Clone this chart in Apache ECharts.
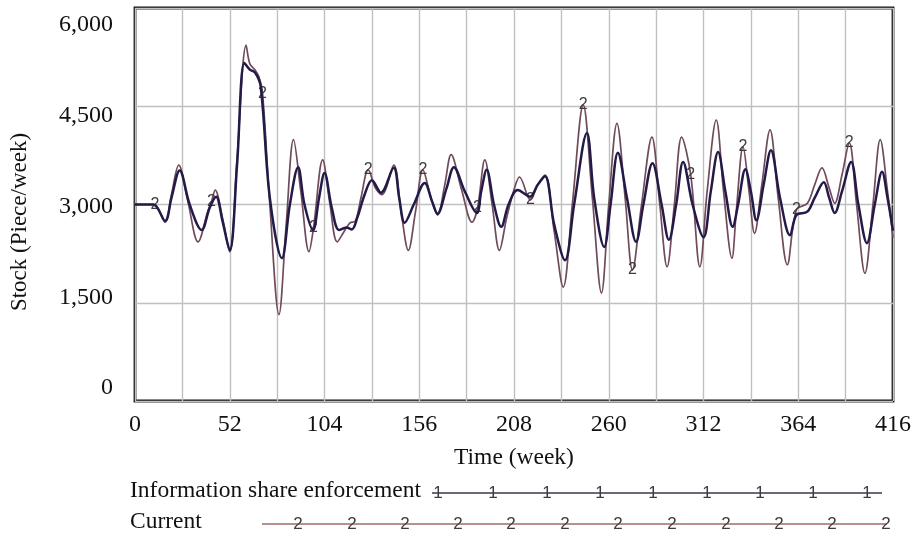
<!DOCTYPE html>
<html>
<head>
<meta charset="utf-8">
<script src="https://cdn.jsdelivr.net/npm/echarts@6/dist/echarts.min.js"></script>
<style>
  html, body { margin: 0; padding: 0; background: #fff; }
  #chart { width: 915px; height: 543px; }
</style>
</head>
<body>
<div id="chart"></div>
<script>
// Stock level (piece/week) over 416 simulated weeks, two scenarios.
const currentWeeks = [0, 10, 11, 16.5, 20, 24, 29, 34.6, 40, 42, 44, 48, 52, 56, 61, 63, 66, 68, 70, 74, 79, 83, 87, 91, 95.5, 98, 103, 107, 111, 115, 118, 121, 124, 128, 132, 135.5, 142, 146, 150, 154, 158, 162, 166, 170, 173.5, 179, 185, 188, 192, 196, 200, 204, 208.5, 211, 217, 221, 225, 230, 235, 240, 246, 251, 256, 260, 264.5, 269, 273, 278, 283.7, 288, 292, 296, 300, 305, 310, 314, 319, 323, 327.6, 330, 333.7, 337, 340, 344, 348.5, 353, 358, 363, 369, 373, 377, 381, 384, 388, 392, 396, 400.6, 405, 409, 413, 416];
const currentStock = [3000, 3000, 3000, 2730, 3150, 3600, 3050, 2430, 2900, 3050, 3220, 2800, 2280, 3700, 5430, 5150, 5050, 4950, 4700, 3000, 1320, 2700, 3990, 3200, 2280, 2650, 3680, 3000, 2430, 2600, 2720, 2750, 3100, 3530, 3250, 3150, 3600, 2900, 2300, 2900, 3530, 3150, 2840, 3300, 3760, 3250, 2730, 2950, 3680, 3000, 2300, 2800, 3270, 3420, 3070, 3300, 3450, 2600, 1740, 3000, 4520, 3100, 1650, 3000, 4240, 3100, 2000, 3000, 4030, 3000, 2050, 3000, 4030, 3450, 2050, 3200, 4290, 3200, 2180, 2900, 3880, 3200, 2560, 3300, 4140, 3100, 2080, 2920, 3020, 3300, 3560, 3250, 3020, 3450, 3940, 3000, 1950, 3000, 3990, 3200, 2500];
// Weeks where the run number "2" is printed on the Current curve
const currentMarkWeeks = [11, 42, 70, 98, 128, 158, 188, 217, 246, 273, 305, 333.7, 363, 392];

const enforceWeeks = [0, 10, 16.5, 20, 24.5, 30, 36.6, 41, 44.5, 48, 52, 56, 60, 63, 66, 69, 74, 80.6, 85, 89.5, 93, 97.7, 101, 104, 108, 112, 116, 119, 122, 126, 130, 135, 142, 145, 148, 153, 159, 163, 166, 171, 175, 181, 187.6, 190, 193, 197, 201, 205, 210, 216.8, 221, 225, 230, 236, 241, 248, 252, 257.5, 261, 265, 270, 275, 279, 284, 289, 293, 297, 300.8, 306, 312, 316, 320, 324, 328, 331, 335, 338, 341, 345, 349, 354, 359.5, 363, 369, 373, 378, 381, 384, 388, 393, 397, 401.7, 406, 410, 413, 416];
const enforceStock = [3000, 3000, 2750, 3100, 3520, 3000, 2610, 2950, 3120, 2750, 2300, 3600, 5160, 5060, 5010, 4800, 3100, 2180, 3000, 3570, 3000, 2610, 3100, 3480, 2950, 2610, 2650, 2620, 2800, 3150, 3370, 3180, 3560, 3100, 2720, 3000, 3330, 3050, 2860, 3250, 3570, 3200, 2870, 3200, 3530, 3000, 2660, 3000, 3220, 3120, 3300, 3430, 2700, 2150, 3000, 4090, 3100, 2350, 3000, 3790, 3100, 2430, 3000, 3630, 3000, 2460, 3000, 3650, 3000, 2500, 3200, 3800, 3200, 2660, 3000, 3540, 3200, 2760, 3300, 3830, 3100, 2530, 2840, 2890, 3100, 3340, 3100, 2870, 3200, 3650, 3000, 2410, 3000, 3500, 3100, 2600];

const yTicks = [0, 1500, 3000, 4500, 6000];
const xLabelStep = 52;

const SERIF = "'Liberation Serif', 'Times New Roman', serif";
const SANS = "'Liberation Sans', Arial, sans-serif";
const NAVY = '#231a48';
const ROSE = '#6f4b5c';

function buildSeriesData(weeks, values, markWeeks, markText) {
  return weeks.map(function (w, i) {
    const item = { value: [w, values[i]] };
    if (markWeeks && markWeeks.indexOf(w) !== -1) {
      item.label = {
        show: true, formatter: markText, position: 'inside',
        color: '#3d3d3d', fontSize: 16, fontFamily: SANS
      };
    }
    return item;
  });
}

function fmt(v) {
  return String(v).replace(/\B(?=(\d{3})+(?!\d))/g, ',');
}

const chart = echarts.init(document.getElementById('chart'), null, { renderer: 'canvas' });

// Legend rows drawn beneath the axis title
const legendGraphics = [];
function legendRow(label, y, x0, x1, color, marks, markText) {
  legendGraphics.push({
    type: 'text', left: 130, top: y - 14,
    style: { text: label, font: '23.5px ' + SERIF, fill: '#111' }
  });
  legendGraphics.push({
    type: 'line', shape: { x1: x0, y1: y, x2: x1, y2: y },
    style: { stroke: color, lineWidth: 1.5 }
  });
  marks.forEach(function (mx) {
    legendGraphics.push({
      type: 'text', x: mx, y: y,
      style: { text: markText, font: '17px ' + SANS, fill: '#3d3d3d', align: 'center', verticalAlign: 'middle' }
    });
  });
}
legendRow('Information share enforcement', 493, 432, 882, '#3a3550',
  [438, 493, 547, 600, 653, 707, 760, 813, 867], '1');
legendRow('Current', 524, 262, 887, '#a06a6a',
  [298, 352, 405, 458, 511, 565, 618, 672, 726, 779, 832, 886], '2');

const option = {
  backgroundColor: '#fff',
  animation: false,
  grid: {
    left: 135, right: 22, top: 8, bottom: 142,
    show: true, borderColor: '#111', borderWidth: 2.8, backgroundColor: 'transparent'
  },
  xAxis: {
    type: 'value', min: 0, max: 416, interval: 26,
    axisLine: { show: false },
    axisTick: { show: false },
    splitLine: { show: true, lineStyle: { color: '#c0c0c0', width: 1.4 } },
    axisLabel: {
      margin: 12, color: '#111', fontSize: 24, fontFamily: SERIF,
      formatter: function (v) { return v % xLabelStep === 0 ? String(v) : ''; }
    }
  },
  yAxis: [
    {
      type: 'value', min: 0, max: 6000, interval: 1500,
      axisLine: { show: false }, axisTick: { show: false },
      axisLabel: { show: false },
      splitLine: { show: true, lineStyle: { color: '#c0c0c0', width: 1.4 } }
    },
    {
      // label-only scale, printed slightly compressed toward the centre
      type: 'value', position: 'left', min: -215, max: 6281,
      axisLine: { show: false }, axisTick: { show: false },
      splitLine: { show: false },
      axisLabel: {
        customValues: yTicks, margin: 22, color: '#111', fontSize: 24, fontFamily: SERIF,
        formatter: function (v) { return fmt(v); }
      }
    }
  ],
  graphic: [
    {
      type: 'text', x: 514, y: 458,
      style: { text: 'Time (week)', font: '23.5px ' + SERIF, fill: '#111', align: 'center', verticalAlign: 'middle' }
    },
    {
      type: 'text', x: 20, y: 222, rotation: Math.PI / 2,
      style: { text: 'Stock (Piece/week)', font: '23px ' + SERIF, fill: '#111', align: 'center', verticalAlign: 'middle' }
    }
  ].concat(legendGraphics),
  series: [
    {
      name: 'Current', type: 'line', yAxisIndex: 0,
      smooth: 0.35,
      showSymbol: true, symbol: 'circle', symbolSize: 1,
      itemStyle: { color: ROSE },
      lineStyle: { color: ROSE, width: 1.7 },
      label: { show: false },
      data: buildSeriesData(currentWeeks, currentStock, currentMarkWeeks, '2'),
      z: 3
    },
    {
      name: 'Information share enforcement', type: 'line', yAxisIndex: 0,
      smooth: 0.35,
      showSymbol: false,
      lineStyle: { color: NAVY, width: 2.5 },
      data: buildSeriesData(enforceWeeks, enforceStock, null, '1'),
      z: 4
    }
  ]
};
chart.setOption(option);
</script>
</body>
</html>
